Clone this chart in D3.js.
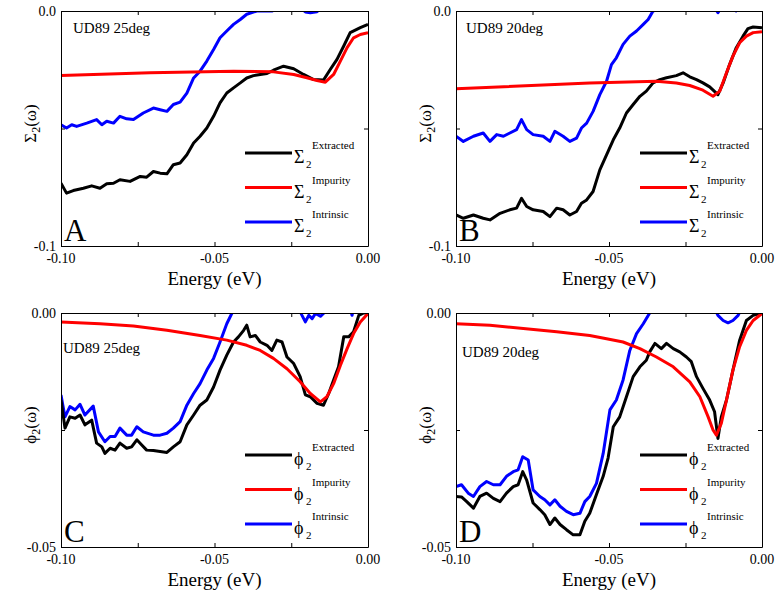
<!DOCTYPE html>
<html>
<head>
<meta charset="utf-8">
<script src="https://cdn.jsdelivr.net/npm/d3@7"></script>
</head>
<body style="margin:0">
<svg id="chart" width="778" height="599"></svg>
<script>
// Panel A: Sigma_2, UD89 25deg  ([energy, value])
var aExtracted = [[-0.1,-0.0733],[-0.0982,-0.0775],[-0.096,-0.0764],[-0.0927,-0.0754],[-0.09,-0.0744],[-0.0873,-0.0754],[-0.0851,-0.0735],[-0.0829,-0.0733],[-0.0808,-0.0718],[-0.0775,-0.0725],[-0.0742,-0.0704],[-0.0721,-0.0707],[-0.0699,-0.0683],[-0.0677,-0.069],[-0.0655,-0.0693],[-0.0634,-0.0654],[-0.0612,-0.0647],[-0.059,-0.0612],[-0.0568,-0.0562],[-0.0547,-0.0533],[-0.0525,-0.0498],[-0.0503,-0.0448],[-0.0482,-0.0391],[-0.046,-0.0349],[-0.0438,-0.0327],[-0.0416,-0.0306],[-0.0395,-0.0285],[-0.0373,-0.0275],[-0.0351,-0.027],[-0.0329,-0.0266],[-0.0308,-0.0252],[-0.0275,-0.0235],[-0.0242,-0.0246],[-0.021,-0.027],[-0.0177,-0.0292],[-0.0145,-0.0294],[-0.0123,-0.0249],[-0.0101,-0.0206],[-0.0079,-0.0149],[-0.0058,-0.0092],[-0.0025,-0.0071],[0,-0.0057]];
var aImpurity = [[-0.1,-0.0275],[-0.071,-0.0263],[-0.0438,-0.0256],[-0.0308,-0.0259],[-0.0242,-0.027],[-0.0199,-0.0284],[-0.0166,-0.0296],[-0.0139,-0.0303],[-0.0112,-0.027],[-0.009,-0.0213],[-0.0068,-0.0156],[-0.0047,-0.0114],[-0.0025,-0.01],[0,-0.0092]];
var aIntrinsic = [[-0.1,-0.0484],[-0.0982,-0.0498],[-0.0965,-0.0484],[-0.0949,-0.0491],[-0.0916,-0.0477],[-0.0884,-0.0462],[-0.0867,-0.0484],[-0.0851,-0.0469],[-0.0829,-0.0477],[-0.0808,-0.0448],[-0.0786,-0.0459],[-0.0764,-0.0462],[-0.0732,-0.0434],[-0.0699,-0.0413],[-0.0677,-0.042],[-0.0655,-0.0427],[-0.0634,-0.0398],[-0.0612,-0.0388],[-0.059,-0.0349],[-0.0568,-0.0285],[-0.0547,-0.0256],[-0.0525,-0.0213],[-0.0503,-0.0164],[-0.0482,-0.0114],[-0.046,-0.0085],[-0.0438,-0.0057],[-0.0416,-0.0036],[-0.0395,-0.0014],[-0.0362,0],[-0.0313,0],[-0.0286,0.0015],[-0.0221,0.0015],[-0.0204,-0.0004],[-0.0188,-0.0007],[-0.0166,-0.0003],[-0.015,0.0015],[0,0.002]];

// Panel B: Sigma_2, UD89 20deg
var bExtracted = [[-0.1,-0.0868],[-0.0976,-0.0882],[-0.0943,-0.0868],[-0.0911,-0.0882],[-0.0889,-0.0889],[-0.0856,-0.0861],[-0.0824,-0.0846],[-0.0802,-0.0839],[-0.0786,-0.0797],[-0.0769,-0.0832],[-0.0748,-0.0846],[-0.0715,-0.0853],[-0.0693,-0.0875],[-0.0671,-0.0839],[-0.065,-0.0846],[-0.0628,-0.0868],[-0.0606,-0.0853],[-0.059,-0.0818],[-0.0573,-0.0804],[-0.0552,-0.0768],[-0.053,-0.0676],[-0.0508,-0.0612],[-0.0486,-0.0548],[-0.0465,-0.0498],[-0.0443,-0.0434],[-0.0421,-0.0398],[-0.0399,-0.0363],[-0.0378,-0.0341],[-0.0356,-0.0306],[-0.0334,-0.0292],[-0.0312,-0.0284],[-0.028,-0.0275],[-0.0258,-0.0263],[-0.0236,-0.028],[-0.0214,-0.0292],[-0.0193,-0.0306],[-0.0171,-0.0323],[-0.0144,-0.0356],[-0.0127,-0.0306],[-0.0106,-0.0228],[-0.0084,-0.0156],[-0.0062,-0.0107],[-0.0046,-0.0075],[-0.0029,-0.0068],[0,-0.0071]];
var bImpurity = [[-0.1,-0.0331],[-0.0563,-0.0306],[-0.0345,-0.0299],[-0.028,-0.0306],[-0.0236,-0.0317],[-0.0193,-0.0337],[-0.016,-0.0363],[-0.0138,-0.0341],[-0.0116,-0.0263],[-0.0095,-0.0192],[-0.0073,-0.0135],[-0.0051,-0.0107],[-0.0029,-0.0092],[0,-0.0088]];
var bIntrinsic = [[-0.1,-0.0533],[-0.0976,-0.0555],[-0.0943,-0.0533],[-0.0911,-0.0519],[-0.0889,-0.0555],[-0.0867,-0.0526],[-0.0845,-0.0533],[-0.0824,-0.0519],[-0.0802,-0.0505],[-0.0786,-0.0462],[-0.0769,-0.0505],[-0.0748,-0.0526],[-0.0715,-0.0533],[-0.0693,-0.0555],[-0.0677,-0.0512],[-0.065,-0.0533],[-0.0628,-0.0555],[-0.0606,-0.0541],[-0.059,-0.0498],[-0.0573,-0.0477],[-0.0552,-0.0427],[-0.053,-0.0356],[-0.0508,-0.0299],[-0.0492,-0.0228],[-0.0476,-0.0199],[-0.0454,-0.0142],[-0.0432,-0.0107],[-0.041,-0.0085],[-0.0388,-0.0057],[-0.0372,-0.0036],[-0.0356,0],[-0.0312,0.002],[-0.0155,0.0014],[-0.0144,-0.0007],[-0.0133,0.0014],[-0.0089,0.0014],[-0.0084,0],[-0.0078,0.0014],[0,0.002]];

// Panel C: phi_2, UD89 25deg
var cExtracted = [[-0.1,-0.0186],[-0.0987,-0.0246],[-0.0971,-0.0222],[-0.0954,-0.0225],[-0.0938,-0.0218],[-0.0922,-0.0239],[-0.09,-0.0229],[-0.0884,-0.0278],[-0.0867,-0.0286],[-0.0857,-0.03],[-0.084,-0.0289],[-0.0824,-0.0293],[-0.0808,-0.0278],[-0.0786,-0.0289],[-0.077,-0.0286],[-0.0753,-0.0271],[-0.0737,-0.0282],[-0.0721,-0.0293],[-0.0699,-0.0294],[-0.0677,-0.0296],[-0.0655,-0.0298],[-0.0634,-0.0286],[-0.0612,-0.0275],[-0.059,-0.0239],[-0.0568,-0.0218],[-0.0547,-0.0197],[-0.0525,-0.0186],[-0.0503,-0.0158],[-0.0482,-0.0122],[-0.046,-0.009],[-0.0438,-0.0062],[-0.0422,-0.0051],[-0.0405,-0.0037],[-0.0395,-0.0026],[-0.0384,-0.0051],[-0.0367,-0.0048],[-0.0351,-0.0062],[-0.0329,-0.0069],[-0.0313,-0.008],[-0.0297,-0.0058],[-0.028,-0.0062],[-0.0264,-0.0094],[-0.0242,-0.0108],[-0.0221,-0.0136],[-0.0204,-0.0175],[-0.0188,-0.0179],[-0.0166,-0.0193],[-0.0145,-0.0197],[-0.0128,-0.0172],[-0.0112,-0.0143],[-0.0096,-0.0115],[-0.0079,-0.0051],[-0.0063,-0.0051],[-0.0047,-0.004],[-0.003,-0.0005],[-0.0014,0],[0,0]];
var cImpurity = [[-0.1,-0.0019],[-0.0873,-0.0023],[-0.0764,-0.0028],[-0.0655,-0.0037],[-0.0547,-0.0048],[-0.046,-0.0058],[-0.0395,-0.0069],[-0.0351,-0.008],[-0.0308,-0.0097],[-0.0264,-0.0119],[-0.0221,-0.0147],[-0.0188,-0.0172],[-0.0155,-0.019],[-0.0134,-0.0179],[-0.0112,-0.0151],[-0.009,-0.0112],[-0.0068,-0.0076],[-0.0047,-0.0044],[-0.0025,-0.0019],[0,-0.0001]];
var cIntrinsic = [[-0.1,-0.0175],[-0.0987,-0.0222],[-0.0971,-0.02],[-0.0954,-0.0207],[-0.0938,-0.0195],[-0.0922,-0.0218],[-0.0895,-0.0199],[-0.0878,-0.0254],[-0.0857,-0.0275],[-0.084,-0.0264],[-0.0824,-0.0264],[-0.0808,-0.0246],[-0.0786,-0.0261],[-0.077,-0.0261],[-0.0753,-0.0243],[-0.0732,-0.0254],[-0.0699,-0.0261],[-0.0677,-0.0261],[-0.0655,-0.0257],[-0.0634,-0.0246],[-0.0612,-0.0232],[-0.059,-0.0197],[-0.0568,-0.0172],[-0.0547,-0.0151],[-0.0525,-0.0122],[-0.0503,-0.0097],[-0.0482,-0.0062],[-0.046,-0.0023],[-0.0443,0],[-0.0416,0.001],[-0.0226,0.001],[-0.0215,-0.0005],[-0.0204,-0.0019],[-0.0193,-0.0005],[-0.0182,-0.0012],[-0.0171,-0.0001],[-0.0155,-0.0007],[-0.0145,-0.0001],[-0.0134,0.001],[-0.0058,0.001],[-0.0052,-0.0005],[-0.0047,0.001],[0,0.001]];

// Panel D: phi_2, UD89 20deg
var dExtracted = [[-0.1,-0.0392],[-0.0982,-0.0393],[-0.0965,-0.0403],[-0.0943,-0.0417],[-0.0922,-0.0392],[-0.09,-0.0385],[-0.0878,-0.0396],[-0.0856,-0.0403],[-0.0835,-0.0385],[-0.0813,-0.0371],[-0.0797,-0.0367],[-0.0782,-0.0339],[-0.0769,-0.0357],[-0.0748,-0.0406],[-0.0726,-0.042],[-0.071,-0.0431],[-0.0693,-0.0452],[-0.0677,-0.0438],[-0.066,-0.0452],[-0.0639,-0.0463],[-0.0617,-0.0474],[-0.0595,-0.0474],[-0.0579,-0.0445],[-0.0563,-0.0428],[-0.0541,-0.0388],[-0.0519,-0.0349],[-0.0503,-0.031],[-0.0486,-0.0243],[-0.0465,-0.0222],[-0.0443,-0.0179],[-0.0421,-0.0136],[-0.0399,-0.0115],[-0.0378,-0.0101],[-0.0367,-0.0083],[-0.035,-0.0065],[-0.0329,-0.0076],[-0.0312,-0.0065],[-0.029,-0.0076],[-0.0269,-0.0083],[-0.0247,-0.0094],[-0.0231,-0.0104],[-0.0214,-0.0136],[-0.0193,-0.0161],[-0.0171,-0.0186],[-0.0155,-0.0211],[-0.0144,-0.0268],[-0.0133,-0.0222],[-0.0116,-0.0186],[-0.0095,-0.0122],[-0.0073,-0.0058],[-0.0051,-0.0016],[-0.0029,-0.0005],[0,0]];
var dImpurity = [[-0.1,-0.0023],[-0.0889,-0.0026],[-0.078,-0.0033],[-0.0671,-0.004],[-0.0563,-0.0048],[-0.0508,-0.0055],[-0.0454,-0.0062],[-0.0399,-0.0076],[-0.0345,-0.0094],[-0.029,-0.0115],[-0.0236,-0.0147],[-0.0203,-0.0179],[-0.0176,-0.0222],[-0.016,-0.025],[-0.0149,-0.0261],[-0.0133,-0.0236],[-0.0116,-0.0186],[-0.0095,-0.0122],[-0.0073,-0.0072],[-0.0051,-0.0037],[-0.0029,-0.0016],[0,-0.0001]];
var dIntrinsic = [[-0.1,-0.0371],[-0.0982,-0.0367],[-0.096,-0.0385],[-0.0943,-0.0392],[-0.0922,-0.0371],[-0.09,-0.036],[-0.0878,-0.0367],[-0.0856,-0.0367],[-0.0835,-0.0349],[-0.0813,-0.0339],[-0.0797,-0.0335],[-0.0782,-0.0307],[-0.0764,-0.0314],[-0.0748,-0.0378],[-0.0726,-0.0392],[-0.071,-0.0399],[-0.0693,-0.041],[-0.0677,-0.0399],[-0.066,-0.0413],[-0.0639,-0.0424],[-0.0617,-0.0431],[-0.0595,-0.0428],[-0.0579,-0.0403],[-0.0563,-0.0392],[-0.0541,-0.0364],[-0.0519,-0.03],[-0.0497,-0.0207],[-0.0476,-0.0186],[-0.0454,-0.0143],[-0.0432,-0.008],[-0.041,-0.0044],[-0.0388,-0.0023],[-0.0367,0],[-0.0345,0.001],[-0.0155,0.001],[-0.0144,-0.0005],[-0.0127,-0.0016],[-0.0111,-0.0021],[-0.0095,-0.0016],[-0.0078,-0.0005],[-0.0067,0.001],[0,0.001]];

// Ticks and labels
var xTicks = [-0.1, -0.075, -0.05, -0.025, 0];
var xTickLabels = {"-0.1": "-0.10", "-0.05": "-0.05", "0": "0.00"};
var sigmaTicks = [-0.1, -0.05, 0];
var sigmaTickLabels = {"-0.1": "-0.1", "0": "0.0"};
var phiTicks = [-0.05, -0.025, 0];
var phiTickLabels = {"-0.05": "-0.05", "0": "0.00"};
var seriesNames = ["Extracted", "Impurity", "Intrinsic"];
var seriesColors = ["#000000", "#ff0000", "#0000ff"];

var serif = "Liberation Serif";
var svg = d3.select("#chart");

var panels = [
    {letter: "A", left: 61, top: 11, w: 307, h: 235, ymin: -0.1, yTicks: sigmaTicks, yLabels: sigmaTickLabels,
     sym: "\u03A3", tag: "UD89 25deg", tagX: 12, tagY: 22, series: [aExtracted, aImpurity, aIntrinsic]},
    {letter: "B", left: 456, top: 11, w: 306, h: 235, ymin: -0.1, yTicks: sigmaTicks, yLabels: sigmaTickLabels,
     sym: "\u03A3", tag: "UD89 20deg", tagX: 10, tagY: 22, series: [bExtracted, bImpurity, bIntrinsic]},
    {letter: "C", left: 61, top: 313, w: 307, h: 234, ymin: -0.05, yTicks: phiTicks, yLabels: phiTickLabels,
     sym: "\u03D5", tag: "UD89 25deg", tagX: 2, tagY: 40, series: [cExtracted, cImpurity, cIntrinsic]},
    {letter: "D", left: 456, top: 313, w: 306, h: 234, ymin: -0.05, yTicks: phiTicks, yLabels: phiTickLabels,
     sym: "\u03D5", tag: "UD89 20deg", tagX: 6, tagY: 44, series: [dExtracted, dImpurity, dIntrinsic]}
];

panels.forEach(function(p, i) {
    var g = svg.append("g")
        .attr("transform", `translate(${p.left}, ${p.top})`);

    // text in the serif face
    function addText(x, y, size, str) {
        return g.append("text")
            .attr("x", x)
            .attr("y", y)
            .attr("font-family", serif)
            .attr("font-size", size)
            .attr("fill", "#000")
            .text(str);
    }

    var x = d3.scaleLinear().domain([-0.1, 0]).range([0, p.w]);
    var y = d3.scaleLinear().domain([p.ymin, 0]).range([p.h, 0]);

    // clip so the curves stop at the frame
    g.append("clipPath")
        .attr("id", "clip" + i)
        .append("rect")
        .attr("width", p.w)
        .attr("height", p.h);

    var line = d3.line()
        .x(d => x(d[0]))
        .y(d => y(d[1]));

    var plot = g.append("g").attr("clip-path", `url(#clip${i})`);
    [2, 0, 1].forEach(function(k) {
        plot.append("path")
            .datum(p.series[k])
            .attr("d", line)
            .attr("fill", "none")
            .attr("stroke", seriesColors[k])
            .attr("stroke-width", 3)
            .attr("stroke-linejoin", "round");
    });

    // axes with inward ticks, labels drawn by hand below
    var axB = d3.axisBottom(x).tickValues(xTicks).tickSizeInner(-4).tickSizeOuter(0).tickFormat("");
    var axT = d3.axisTop(x).tickValues(xTicks).tickSizeInner(-4).tickSizeOuter(0).tickFormat("");
    var axL = d3.axisLeft(y).tickValues(p.yTicks).tickSizeInner(-4).tickSizeOuter(0).tickFormat("");
    var axR = d3.axisRight(y).tickValues(p.yTicks).tickSizeInner(-4).tickSizeOuter(0).tickFormat("");

    g.append("g").attr("transform", `translate(0, ${p.h})`).call(axB);
    g.append("g").call(axT);
    g.append("g").call(axL);
    g.append("g").attr("transform", `translate(${p.w}, 0)`).call(axR);
    g.selectAll(".domain, .tick line").attr("stroke", "#000");
    g.selectAll(".tick text").remove();

    xTicks.forEach(function(t) {
        var lab = xTickLabels[String(t)];
        if (lab) addText(x(t), p.h + 17, 14, lab).attr("text-anchor", "middle");
    });
    p.yTicks.forEach(function(t) {
        var lab = p.yLabels[String(t)];
        if (lab) addText(-5, y(t) + 5, 14, lab).attr("text-anchor", "end");
    });

    // axis titles
    addText(p.w / 2, p.h + 39, 19, "Energy (eV)").attr("text-anchor", "middle");

    var yt = addText(0, 0, 17, null)
        .attr("x", null).attr("y", null)
        .attr("transform", `translate(-25, ${p.h / 2 - 5}) rotate(-90)`)
        .attr("text-anchor", "middle");
    yt.append("tspan").text(p.sym);
    yt.append("tspan").attr("dy", 4).attr("font-size", 12).text("2");
    yt.append("tspan").attr("dy", -4).text("(\u03C9)");

    // sample tag and panel letter
    addText(p.tagX, p.tagY, 15, p.tag);
    addText(3, p.h - 5, 31, p.letter);

    // legend
    seriesNames.forEach(function(name, k) {
        var ly = 142 + k * 34.5;
        g.append("line")
            .attr("x1", 184).attr("x2", 231)
            .attr("y1", ly).attr("y2", ly)
            .attr("stroke", seriesColors[k])
            .attr("stroke-width", 3);
        addText(233, ly + 10, 18, p.sym);
        addText(245, ly + 15, 11, "2");
        addText(251, ly - 4, 11, name);
    });
});
</script>
</body>
</html>
